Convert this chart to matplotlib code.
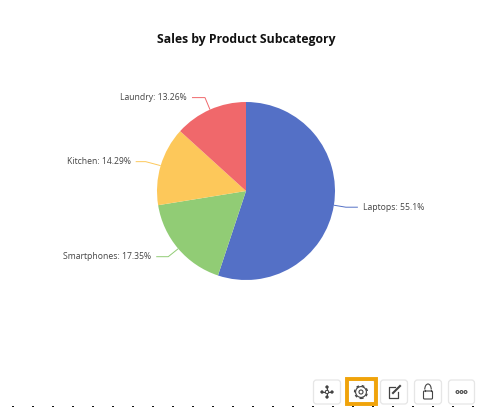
import numpy as np
import matplotlib
matplotlib.use("Agg")
import matplotlib.pyplot as plt
from matplotlib.patches import FancyBboxPatch, Circle, Rectangle, PathPatch, Arc
from matplotlib.path import Path

categories = ["Laptops", "Smartphones", "Kitchen", "Laundry"]
shares = [55.1, 17.35, 14.29, 13.26]
share_labels = ["55.1%", "17.35%", "14.29%", "13.26%"]
colors = ["#5470C6", "#91CC75", "#FDC85A", "#F0686B"]
title = "Sales by Product Subcategory"

W, H = 489, 407
fig = plt.figure(figsize=(W / 100, H / 100), dpi=100, facecolor="white")
ax = fig.add_axes([0, 0, 1, 1])
Y = lambda py: H - py
cx, cy, R = 246, 191, 89

ax.pie(shares, colors=colors, startangle=90, counterclock=False,
       center=(cx, Y(cy)), radius=R, frame=True,
       wedgeprops=dict(linewidth=0))
ax.set_xlim(0, W)
ax.set_ylim(0, H)
ax.set_aspect("equal")
ax.axis("off")

ax.text(246, Y(39.5), title, ha="center", va="center", fontsize=8.8,
        fontweight="bold", family="Open Sans", color="#111111")

# leader elbow: offsets in pixels from the slice edge
elbows = [((12, 2), (24, 2)), ((-10, 8), (-22, 8)), ((-15, -4), (-25, -4)), ((-5, -12), (-18, -12))]
cum = np.cumsum([0] + shares)
for i, (c, s, lab) in enumerate(zip(categories, shares, share_labels)):
    a = np.deg2rad((cum[i] + s / 2) * 3.6 * 100 / cum[-1])
    x0, y0 = cx + R * np.sin(a), cy - R * np.cos(a)
    (dx1, dy1), (dx2, dy2) = elbows[i]
    p = Path([(x0, Y(y0)), (x0 + dx1, Y(y0 + dy1)), (x0 + dx2, Y(y0 + dy2))],
             [Path.MOVETO, Path.LINETO, Path.LINETO])
    ax.add_patch(PathPatch(p, fc="none", ec=colors[i], lw=0.7, joinstyle="round"))
    right = dx2 > 0
    ax.text(x0 + dx2 + (5 if right else -5), Y(y0 + dy2), f"{c}: {lab}",
            ha="left" if right else "right", va="center", fontsize=6.25,
            family="Open Sans", color="#444444")

# toolbar
buttons = [(313, 341), (347, 375), (380, 408), (414, 442), (448, 475)]
for a, b in buttons:
    ax.add_patch(FancyBboxPatch((a + 0.5, Y(404)), b - a - 1, 24,
                                boxstyle="round,pad=0,rounding_size=3",
                                fc="white", ec="#E6E6E6", lw=0.9, zorder=3))
ax.add_patch(Rectangle((346.5, Y(403.5)), 29.5, 24.5, fc="none", ec="#F0A30A", lw=2.8, zorder=4))
ic = "#444444"
lw = 0.8
# move icon
mx, my = 327, Y(392)
ax.plot([mx - 5, mx + 5], [my, my], color=ic, lw=lw, zorder=5)
ax.plot([mx, mx], [my - 5, my + 5], color=ic, lw=lw, zorder=5)
ax.add_patch(Circle((mx, my), 1.7, fc="white", ec=ic, lw=lw, zorder=6))
for dx, dy in [(5, 0), (-5, 0), (0, 5), (0, -5)]:
    ax.add_patch(Circle((mx + dx, my + dy), 1.4, fc=ic, ec=ic, lw=0.3, zorder=6))
# gear icon
gx, gy = 361, Y(392)
ax.add_patch(Circle((gx, gy), 5.4, fc="none", ec=ic, lw=0.8, zorder=5))
ax.add_patch(Circle((gx, gy), 6.4, fc="none", ec=ic, lw=1.0, ls=(0, (2.0, 2.0)), zorder=5))
ax.add_patch(Circle((gx, gy), 2.0, fc="none", ec=ic, lw=0.8, zorder=5))
# edit icon
ex, ey = 394, Y(392)
ax.plot([ex + 1, ex - 5, ex - 5, ex + 4, ex + 4],
        [ey + 5, ey + 5, ey - 6, ey - 6, ey], color=ic, lw=0.9, zorder=5)
ax.plot([ex - 1, ex + 6], [ey - 1, ey + 6], color=ic, lw=1.5, zorder=5)
# lock icon
lx, ly = 428, Y(392)
ax.add_patch(FancyBboxPatch((lx - 4.5, ly - 7), 9, 8, boxstyle="round,pad=0,rounding_size=1",
                            fc="none", ec=ic, lw=0.8, zorder=5))
ax.add_patch(Arc((lx, ly + 2.5), 6.5, 11, theta1=0, theta2=180, ec=ic, lw=0.8, zorder=5))
ax.plot([lx - 3.25, lx - 3.25], [ly + 1, ly + 2.5], color=ic, lw=0.8, zorder=5)
ax.plot([lx + 3.25, lx + 3.25], [ly + 1, ly + 2.5], color=ic, lw=0.8, zorder=5)
# dots icon
for dx in (-4, 0, 4):
    ax.add_patch(Circle((461.5 + dx, Y(392)), 1.4, fc="none", ec=ic, lw=0.8, zorder=5))

# dashes at the bottom edge
for x in range(13, W, 20):
    ax.add_patch(Rectangle((x - 1, 0.2), 2.2, 1.1, fc="#111111", ec="none", zorder=2))

fig.savefig("out.png", dpi=100, facecolor="white")
